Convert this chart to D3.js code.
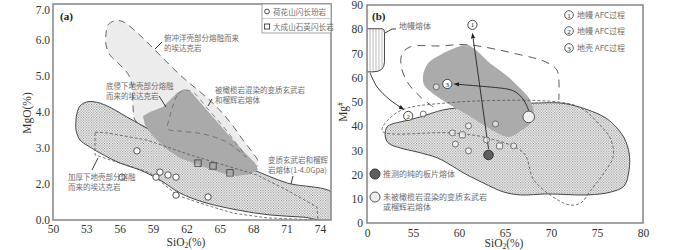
<!DOCTYPE html>
<html><head><meta charset="utf-8">
<script src="https://cdn.jsdelivr.net/npm/d3@7"></script>
<style>body{margin:0;background:#fff} svg{display:block}</style>
</head><body><svg id="c" width="700" height="250"></svg>
<script>
// ---------- Panel (a) data: SiO2 (%) vs MgO (%) ----------
const aXTicks = [50,53,56,59,62,65,68,71,74];
const aYTicks = [1,2,3,4,5,6,7];
const aYTickLabels = ["0.0","2.0","3.0","4.0","5.0","6.0","7.0"];
const aLegend = ["荷花山闪长玢岩","大成山石英闪长岩"];
// 荷花山闪长玢岩 (circles)
const aCircleSiO2 = [57.55,56.2,59.26,59.62,60.34,61.06,61.06,63.94];
const aCircleMgO  = [2.92,2.19,2.19,2.33,2.25,2.19,1.69,1.64];
// 大成山石英闪长岩 (squares)
const aSquareSiO2 = [63.04,64.39,65.92];
const aSquareMgO  = [2.58,2.5,2.31];
// fields
const aSlabSiO2 = [54.77,54.95,55.49,56.12,56.74,58.0,59.62,61.42,63.22,64.57,65.92,67.09,67.9,68.44,67.99,65.92,63.67,61.69,60.07,58.27,57.37,57.19,57.1,56.74,55.85,55.13,54.77];
const aSlabMgO  = [6.19,6.42,6.53,6.53,6.42,6.08,5.58,5.03,4.56,4.19,3.72,3.22,2.89,2.61,2.39,2.58,2.75,2.94,3.25,3.58,3.78,4.19,4.75,5.06,5.36,5.58,5.86];
const aUnderSiO2 = [58.09,58.72,59.89,60.52,61.15,61.78,62.41,63.67,65.02,66.19,67.27,68.17,68.44,67.72,66.55,65.47,64.12,62.77,61.42,60.07,58.9,58.27];
const aUnderMgO  = [3.89,4.0,4.14,4.33,4.53,4.64,4.56,4.11,3.64,3.22,2.86,2.58,2.39,2.28,2.22,2.28,2.42,2.56,2.72,3.0,3.36,3.64];
const aMeltSiO2 = [52.16,52.43,53.06,53.78,54.86,56.65,58.27,60.07,61.69,63.67,65.92,67.99,71.04,75.3,75.3,72.48,69.51,66.55,63.49,61.42,59.62,57.82,56.03,54.23,53.15,52.43,52.07,52.07];
const aMeltMgO  = [3.97,4.17,4.28,4.28,4.17,3.86,3.58,3.25,2.94,2.75,2.58,2.39,2.03,1.72,1.0,1.08,1.14,1.28,1.5,1.75,2.11,2.39,2.58,2.86,3.06,3.22,3.5,3.78];
const aContSiO2 = [60.88,61.24,61.87,62.68,63.85,65.2,66.37,67.36,66.64,65.47,63.49,61.42,60.34,60.52];
const aContMgO  = [4.25,4.5,4.61,4.53,4.11,3.64,3.17,2.75,2.94,3.19,3.39,3.47,3.53,3.89];
const aThickSiO2 = [53.78,54.86,58.45,62.32,68.35,71.04,73.74,73.83,69.24,66.19,63.22,61.15,60.07,58.72,57.19,55.13,53.78];
const aThickMgO  = [3.44,3.42,3.22,2.81,2.25,1.83,1.36,1.0,1.06,1.19,1.47,1.69,1.97,2.31,2.47,2.67,2.81];

// ---------- Panel (b) data: SiO2 (%) vs Mg# ----------
const bXTicks = [50,55,60,65,70,75,80];
const bXTickLabels = ["0","55","60","65","70","75","80"];
const bYTicks = [0,10,20,30,40,50,60,70,80,90];
const bLegend = ["地幔 AFC过程","地幔 AFC过程","地壳 AFC过程"];
const bLegend2 = ["推测的纯的板片熔体","未被橄榄岩混染的变质玄武岩","或榴辉岩熔体"];
const bSampleSiO2 = [56.11,57.53,59.28,61.03,63.97,59.61,61.03,62.99,65.94];
const bSampleMg   = [45.0,56.2,37.2,40.1,40.9,32.6,29.8,34.3,31.8];
const bSquareSiO2 = [60.37,64.41];
const bSquareMg   = [36.4,31.8];
const bPureSlab = [63.21,28.1];
const bUncontam = [67.58,43.8];
const bProcessSiO2 = [61.46,54.48,58.73];
const bProcessMg   = [81.8,44.2,57.4];
const bMantleSiO2 = [50,51.9];
const bMantleMg   = [62.4,80.2];
const bGraySiO2 = [56.11,56.66,57.97,59.61,60.81,61.79,63.43,65.07,66.38,67.58,68.12,67.79,66.7,65.39,63.97,62.34,60.37,58.52,57.1,56.22];
const bGrayMg   = [61.2,66.1,69.4,72.3,73.6,71.5,65.7,61.2,56.6,51.7,45.9,41.3,38.0,35.5,37.6,41.3,45.9,50.0,53.7,57.0];
const bMeltSiO2 = [52.18,52.73,53.6,55.79,58.3,60.92,64.52,70.74,72.16,74.02,75.76,76.86,77.95,78.49,78.49,77.95,76.53,74.02,69.65,66.7,64.85,62.66,60.48,59.06,57.64,55.46,53.6,52.29,51.97];
const bMeltMg   = [39.7,40.9,41.7,43.8,46.7,47.9,48.8,49.6,48.8,46.7,43.8,40.5,35.1,28.9,21.9,15.3,12.8,11.6,12.0,11.6,12.8,16.5,20.7,24.0,26.9,29.3,31.0,33.1,36.4];
const bLongSiO2 = [57.21,55.79,54.37,53.71,53.82,54.69,57.97,60.92,66.7,69.43,70.63,70.85,70.85];
const bLongMg   = [47.9,52.1,58.3,64.9,69.8,72.7,73.1,73.6,69.4,66.5,63.2,59.1,50.8];
const bShortSiO2 = [53.38,58.73,70.74,73.25,75.11,76.53,76.75,75.76,74.34,73.25,72.16,70.74,68.12,67.03,63.1,59.06,51.64];
const bShortMg   = [45.9,49.6,50.0,47.5,41.3,34.3,27.3,20.7,13.6,8.3,7.4,9.5,17.8,28.9,35.1,37.2,38.0];
const bArrow1SiO2 = [63.21,61.46]; const bArrow1Mg = [30.6,78.2];
const bArrow2SiO2 = [50.33,51.09,52.51,54.0]; const bArrow2Mg = [62.0,56.2,50.8,46.9];
const bArrow3SiO2 = [67.58,67.14,66.05,64.52,59.5]; const bArrow3Mg = [46.3,50.8,55.0,55.8,57.4];

// ---------- drawing ----------
const SERIF = "'Liberation Serif','Times New Roman',serif";
const CJK = "'Noto Sans CJK SC',sans-serif";
const svg = d3.select("#c");
const defs = svg.append("defs");
const pat = defs.append("pattern").attr("id","dots").attr("patternUnits","userSpaceOnUse").attr("width",2.6).attr("height",2.6);
pat.append("rect").attr("width",2.6).attr("height",2.6).attr("fill","#fff");
pat.append("rect").attr("width",1.1).attr("height",1.1).attr("fill","#7e7e7e");
pat.append("rect").attr("x",1.3).attr("y",1.3).attr("width",1.1).attr("height",1.1).attr("fill","#7e7e7e");
const hat = defs.append("pattern").attr("id","vhatch").attr("patternUnits","userSpaceOnUse").attr("width",3).attr("height",3);
hat.append("rect").attr("width",3).attr("height",3).attr("fill","#fff");
hat.append("line").attr("x1",1).attr("x2",1).attr("y1",0).attr("y2",3).attr("stroke","#aaa").attr("stroke-width",0.8);
const mk = defs.append("marker").attr("id","arr").attr("viewBox","0 0 10 10").attr("refX",9).attr("refY",5)
  .attr("markerWidth",6).attr("markerHeight",6).attr("orient","auto-start-reverse");
mk.append("path").attr("d","M0,1L10,5L0,9z").attr("fill","#222");

const zip = (xs,ys)=>xs.map((x,i)=>[x,ys[i]]);

function panel(id, x, y){
  const g = svg.append("g");
  const [x0,x1] = x.range(), [y0,y1] = y.range();
  defs.append("clipPath").attr("id","clip"+id).append("rect").attr("x",x0).attr("y",y1).attr("width",x1-x0).attr("height",y0-y1);
  const inner = g.append("g").attr("clip-path",`url(#clip${id})`);
  return {g, inner, x0,x1,y0,y1};
}
function frame(P){
  P.g.append("rect").attr("x",P.x0).attr("y",P.y1).attr("width",P.x1-P.x0).attr("height",P.y0-P.y1)
    .attr("fill","none").attr("stroke","#8c8c8c").attr("stroke-width",1.6);
}
function text(g,x,y,s,size,opts={}){
  return g.append("text").attr("x",x).attr("y",y).text(s).attr("font-size",size)
    .attr("font-family",opts.family||CJK).attr("fill",opts.fill||"#6e6e6e")
    .attr("text-anchor",opts.anchor||"start").attr("font-weight",opts.weight||"normal");
}

// ===== Panel (a) =====
const xa = d3.scaleLinear().domain([50,75]).range([53,331]);
const ya = d3.scaleLinear().domain([1,7]).range([220,4]);
const A = panel("a", xa, ya);
const smoothA = d3.line().x(d=>xa(d[0])).y(d=>ya(d[1])).curve(d3.curveCatmullRomClosed.alpha(0.5));
const linA = d3.line().x(d=>xa(d[0])).y(d=>ya(d[1])).curve(d3.curveLinearClosed);

A.inner.append("path").attr("d",smoothA(zip(aSlabSiO2,aSlabMgO))).attr("fill","#ececec")
  .attr("stroke","#555").attr("stroke-width",0.9).attr("stroke-dasharray","7,5");
A.inner.append("path").attr("d",smoothA(zip(aMeltSiO2,aMeltMgO))).attr("fill","url(#dots)")
  .attr("stroke","#333").attr("stroke-width",0.9);
A.inner.append("path").attr("d",linA(zip(aUnderSiO2,aUnderMgO))).attr("fill","#aaaaaa").attr("stroke","none");
A.inner.append("path").attr("d",smoothA(zip(aContSiO2,aContMgO))).attr("fill","none")
  .attr("stroke","#666").attr("stroke-width",0.8).attr("stroke-dasharray","5,4");
A.inner.append("path").attr("d",linA(zip(aThickSiO2,aThickMgO))).attr("fill","none")
  .attr("stroke","#555").attr("stroke-width",0.8).attr("stroke-dasharray","3,2");
// samples
A.g.selectAll("circle.s").data(zip(aCircleSiO2,aCircleMgO)).join("circle")
  .attr("cx",d=>xa(d[0])).attr("cy",d=>ya(d[1])).attr("r",3.2)
  .attr("fill","#fff").attr("stroke","#444").attr("stroke-width",0.9);
A.g.selectAll("rect.s").data(zip(aSquareSiO2,aSquareMgO)).join("rect")
  .attr("x",d=>xa(d[0])-3.2).attr("y",d=>ya(d[1])-3.2).attr("width",6.4).attr("height",6.4)
  .attr("fill","none").attr("stroke","#444").attr("stroke-width",0.9);
frame(A);
// axes
const axA = d3.axisBottom(xa).tickValues(aXTicks).tickSize(0).tickPadding(5);
A.g.append("g").attr("transform",`translate(0,${A.y0})`).call(axA).call(s=>{
  s.select(".domain").remove();
  s.selectAll("text").attr("font-family",SERIF).attr("font-size",11.5).attr("fill","#333");});
const ayA = d3.axisLeft(ya).tickValues(aYTicks).tickFormat((d,i)=>aYTickLabels[i]).tickSize(0).tickPadding(3);
A.g.append("g").attr("transform",`translate(${A.x0},0)`).call(ayA).call(s=>{
  s.select(".domain").remove();
  s.selectAll("text").attr("font-family",SERIF).attr("font-size",11.5).attr("fill","#333");
  s.selectAll("text").filter(d=>d===7).attr("dy","0.85em");});
const xlA = text(A.g,186,246,"SiO",11.5,{family:SERIF,fill:"#333",anchor:"middle"});
xlA.append("tspan").attr("font-size",7.5).attr("dy",2).text("2");
xlA.append("tspan").attr("dy",-2).text("(%)");
text(A.g,0,0,"MgO(%)",11.5,{family:SERIF,fill:"#333",anchor:"middle"}).attr("transform","translate(31,113) rotate(-90)");
text(A.g,60,20,"(a)",11,{family:SERIF,fill:"#222",weight:"bold"});
// legend (a)
A.g.append("rect").attr("x",262).attr("y",4).attr("width",69).attr("height",29).attr("fill","#fff").attr("stroke","#8c8c8c").attr("stroke-width",0.8);
A.g.append("line").attr("x1",262).attr("x2",331).attr("y1",18.5).attr("y2",18.5).attr("stroke","#aaa").attr("stroke-width",0.6);
A.g.append("circle").attr("cx",267).attr("cy",11.5).attr("r",2.4).attr("fill","#fff").attr("stroke","#333").attr("stroke-width",0.9);
A.g.append("rect").attr("x",264.6).attr("y",24).attr("width",5).attr("height",5).attr("fill","none").attr("stroke","#333").attr("stroke-width",0.9);
text(A.g,273,14.5,aLegend[0],7.6);
text(A.g,273,29.5,aLegend[1],7.6);
// annotations (a)
const annA = [
  [164,41,"俯冲洋壳部分熔融而来"],[164,51,"的埃达克岩"],
  [106,89,"底侵下地壳部分熔融"],[106,99,"而来的埃达克岩"],
  [215,93,"被橄榄岩混染的变质玄武岩"],[215,103,"和榴辉岩熔体"],
  [268,163,"变质玄武岩和榴辉"],[268,173,"岩熔体(1-4.0Gpa)"],
  [68,180,"加厚下地壳部分熔融"],[68,190,"而来的埃达克岩"]];
annA.forEach(a=>text(A.g,a[0],a[1],a[2],7.5));
[[162,42,155,49],[159,96,166,107],[212,99,208,106],[293,176,291,184],[92,170,98,158]].forEach(l=>
  A.g.append("line").attr("x1",l[0]).attr("y1",l[1]).attr("x2",l[2]).attr("y2",l[3]).attr("stroke","#222").attr("stroke-width",0.9));

// ===== Panel (b) =====
const xb = d3.scaleLinear().domain([50,80]).range([367,643]);
const yb = d3.scaleLinear().domain([0,90]).range([223,5]);
const B = panel("b", xb, yb);
const smoothB = d3.line().x(d=>xb(d[0])).y(d=>yb(d[1])).curve(d3.curveCatmullRomClosed.alpha(0.5));
const openB = d3.line().x(d=>xb(d[0])).y(d=>yb(d[1])).curve(d3.curveCatmullRom.alpha(0.5));

B.inner.append("path").attr("d",smoothB(zip(bMeltSiO2,bMeltMg))).attr("fill","url(#dots)")
  .attr("stroke","#333").attr("stroke-width",0.9);
B.inner.append("path").attr("d",openB(zip(bLongSiO2,bLongMg))).attr("fill","none")
  .attr("stroke","#444").attr("stroke-width",0.9).attr("stroke-dasharray","8,6");
B.inner.append("path").attr("d",smoothB(zip(bGraySiO2,bGrayMg))).attr("fill","#ababab");
B.inner.append("path").attr("d",smoothB(zip(bShortSiO2,bShortMg))).attr("fill","none")
  .attr("stroke","#555").attr("stroke-width",0.8).attr("stroke-dasharray","3,2");
// mantle melt box
const mm = d3.path();
mm.moveTo(xb(bMantleSiO2[0]),yb(bMantleMg[1]));
mm.lineTo(xb(bMantleSiO2[1])-2,yb(bMantleMg[1]));
mm.quadraticCurveTo(xb(bMantleSiO2[1]),yb(bMantleMg[1]),xb(bMantleSiO2[1]),yb(bMantleMg[1])+4);
mm.lineTo(xb(bMantleSiO2[1]),yb(bMantleMg[0])-10);
mm.quadraticCurveTo(xb(bMantleSiO2[1]),yb(bMantleMg[0]),xb(bMantleSiO2[0])+6,yb(bMantleMg[0]));
mm.lineTo(xb(bMantleSiO2[0]),yb(bMantleMg[0]));
B.inner.append("path").attr("d",mm.toString()).attr("fill","url(#vhatch)").attr("stroke","#333").attr("stroke-width",0.9);
// arrows
B.g.append("path").attr("d",d3.line().x(d=>xb(d[0])).y(d=>yb(d[1]))(zip(bArrow1SiO2,bArrow1Mg)))
  .attr("fill","none").attr("stroke","#222").attr("stroke-width",0.9).attr("marker-end","url(#arr)");
B.g.append("path").attr("d",openB(zip(bArrow2SiO2,bArrow2Mg)))
  .attr("fill","none").attr("stroke","#222").attr("stroke-width",0.9).attr("marker-end","url(#arr)");
B.g.append("path").attr("d",d3.line().x(d=>xb(d[0])).y(d=>yb(d[1])).curve(d3.curveBasis)(zip(bArrow3SiO2,bArrow3Mg)))
  .attr("fill","none").attr("stroke","#222").attr("stroke-width",0.9).attr("marker-end","url(#arr)");
// samples
B.g.selectAll("circle.s").data(zip(bSampleSiO2,bSampleMg)).join("circle")
  .attr("cx",d=>xb(d[0])).attr("cy",d=>yb(d[1])).attr("r",3)
  .attr("fill","#fff").attr("fill-opacity",0.6).attr("stroke","#555").attr("stroke-width",0.8);
B.g.selectAll("rect.s").data(zip(bSquareSiO2,bSquareMg)).join("rect")
  .attr("x",d=>xb(d[0])-3).attr("y",d=>yb(d[1])-3).attr("width",6).attr("height",6).attr("rx",1.5)
  .attr("fill","#fff").attr("fill-opacity",0.6).attr("stroke","#555").attr("stroke-width",0.8);
B.g.append("circle").attr("cx",xb(bPureSlab[0])).attr("cy",yb(bPureSlab[1])).attr("r",4.8).attr("fill","#5e5e5e").attr("stroke","#333");
B.g.append("circle").attr("cx",xb(bUncontam[0])).attr("cy",yb(bUncontam[1])).attr("r",5.8).attr("fill","#f0f0f0").attr("stroke","#555");
// process markers
const nums = ["1","2","3"];
bProcessSiO2.forEach((s,i)=>{
  const cx = xb(s), cy = yb(bProcessMg[i]);
  B.g.append("circle").attr("cx",cx).attr("cy",cy).attr("r",4.6).attr("fill","#fff").attr("stroke","#333").attr("stroke-width",0.9);
  text(B.g,cx,cy+2.6,nums[i],7,{family:SERIF,fill:"#222",anchor:"middle"});
});
frame(B);
// axes (b)
const axB = d3.axisBottom(xb).tickValues(bXTicks).tickFormat((d,i)=>bXTickLabels[i]).tickSize(0).tickPadding(6);
B.g.append("g").attr("transform",`translate(0,${B.y0})`).call(axB).call(s=>{
  s.select(".domain").remove();
  s.selectAll("text").attr("font-family",SERIF).attr("font-size",11.5).attr("fill","#333");});
const ayB = d3.axisLeft(yb).tickValues(bYTicks).tickSize(0).tickPadding(4);
B.g.append("g").attr("transform",`translate(${B.x0},0)`).call(ayB).call(s=>{
  s.select(".domain").remove();
  s.selectAll("text").attr("font-family",SERIF).attr("font-size",11.5).attr("fill","#333");});
const xlB = text(B.g,504,247,"SiO",11.5,{family:SERIF,fill:"#333",anchor:"middle"});
xlB.append("tspan").attr("font-size",7.5).attr("dy",2).text("2");
xlB.append("tspan").attr("dy",-2).text("(%)");
const ylB = text(B.g,0,0,"Mg",11.5,{family:SERIF,fill:"#333",anchor:"middle"}).attr("transform","translate(347,112) rotate(-90)");
ylB.append("tspan").attr("font-size",7.5).attr("dy",-4).text("#");
text(B.g,372,20,"(b)",11,{family:SERIF,fill:"#222",weight:"bold"});
text(B.g,399,29,"地幔熔体",8);
B.g.append("path").attr("d","M385,33L392,29L396,29").attr("fill","none").attr("stroke","#222").attr("stroke-width",0.9);
// legend (b)
bLegend.forEach((t,i)=>{
  const cy = [15,31,48][i];
  B.g.append("circle").attr("cx",569).attr("cy",cy).attr("r",4.3).attr("fill","#fff").attr("stroke","#333").attr("stroke-width",0.8);
  text(B.g,569,cy+2.5,nums[i],7,{family:SERIF,fill:"#222",anchor:"middle"});
  text(B.g,577,cy+3,t,8);
});
B.g.append("circle").attr("cx",375).attr("cy",174).attr("r",5).attr("fill","#5e5e5e").attr("stroke","#333");
text(B.g,383,177,bLegend2[0],8);
B.g.append("circle").attr("cx",375).attr("cy",197).attr("r",5).attr("fill","#f0f0f0").attr("stroke","#555");
text(B.g,383,200,bLegend2[1],8);
text(B.g,383,210,bLegend2[2],8);
</script></body></html>
